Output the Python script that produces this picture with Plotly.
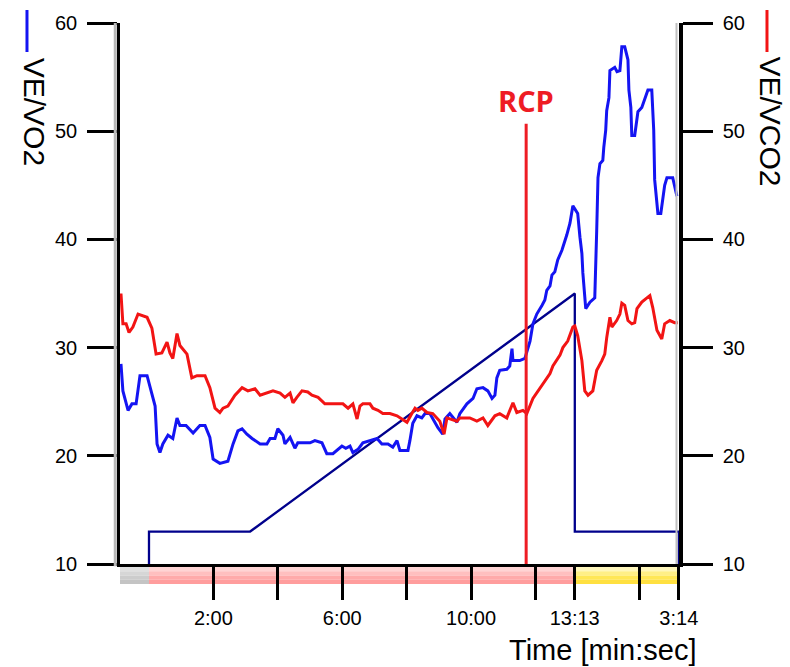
import plotly.graph_objects as go

# ---- data (time in minutes; recovery phase continues after 13:13) ----
ve_vo2_t = [-0.87, -0.81, -0.65, -0.53, -0.40, -0.28, -0.06, 0.09, 0.19, 0.25, 0.34, 0.43, 0.59, 0.74,
            0.87, 0.96, 1.15, 1.37, 1.58, 1.74, 1.89, 1.99, 2.20, 2.45, 2.61, 2.76, 2.89, 3.04, 3.20,
            3.45, 3.66, 3.76, 3.91, 4.00, 4.16, 4.22, 4.38, 4.53, 4.62, 5.00, 5.15, 5.37, 5.52, 5.71,
            5.83, 5.99, 6.11, 6.24, 6.33, 6.49, 6.64, 6.86, 7.08, 7.23, 7.42, 7.57, 7.70, 7.79, 8.04,
            8.10, 8.19, 8.32, 8.47, 8.57, 8.72, 8.97, 9.12, 9.19, 9.34, 9.56, 9.65, 9.87, 10.06, 10.18,
            10.37, 10.52, 10.65, 10.74, 10.80, 10.89, 11.11, 11.20, 11.27, 11.30, 11.51, 11.67, 11.73,
            11.83, 11.92, 12.04, 12.20, 12.29, 12.35, 12.45, 12.51, 12.60, 12.69, 12.82, 12.97, 13.07,
            13.16, 13.22, 13.31, 13.38, 13.44, 13.47, 13.56, 13.69, 13.84, 13.90, 13.94, 14.00, 14.09,
            14.12, 14.18, 14.21, 14.28, 14.31, 14.46, 14.53, 14.62, 14.68, 14.77, 14.87, 14.90, 14.96,
            14.99, 15.08, 15.18, 15.30, 15.39, 15.49, 15.61, 15.67, 15.70, 15.80, 15.89, 16.01, 16.08,
            16.26, 16.39]
ve_vo2 = [28.5, 26.0, 24.2, 24.8, 24.8, 27.4, 27.4, 25.7, 24.6, 21.1, 20.3, 21.1, 21.9, 21.6,
          23.5, 22.8, 22.8, 22.1, 22.8, 22.8, 21.7, 19.7, 19.3, 19.5, 21.1, 22.3, 22.5, 22.0, 21.6,
          21.1, 21.1, 21.6, 21.6, 22.5, 21.9, 21.1, 21.7, 20.7, 21.2, 21.2, 21.4, 21.2, 20.2, 20.2,
          20.5, 20.9, 20.7, 20.9, 20.3, 20.6, 21.2, 21.4, 21.6, 21.1, 21.1, 20.8, 21.4, 20.5, 20.5,
          21.4, 23.0, 23.7, 23.5, 23.9, 23.9, 22.6, 22.0, 23.4, 23.9, 23.1, 23.9, 24.8, 25.3, 26.2,
          26.3, 26.0, 25.3, 25.6, 27.2, 27.9, 28.0, 28.3, 29.9, 28.8, 28.8, 29.0, 29.7,
          30.6, 32.2, 33.1, 33.9, 34.4, 35.3, 35.7, 36.7, 37.0, 38.1, 39.0, 40.4, 41.5,
          43.1, 42.8, 42.4, 40.2, 38.7, 36.9, 33.6, 34.2, 34.6, 40.8, 45.7, 47.0, 47.3,
          48.5, 50.1, 51.9, 53.1, 55.6, 55.9, 55.5, 55.6, 57.8, 57.8, 56.6, 53.8, 52.2,
          49.6, 49.6, 51.8, 52.2, 52.9, 53.8, 53.8, 50.1, 45.5, 42.4, 42.4, 45.0, 45.7,
          45.7, 44.0]

ve_vco2_t = [-0.87, -0.81, -0.71, -0.62, -0.50, -0.34, -0.06, 0.09, 0.22, 0.40, 0.56, 0.65, 0.74, 0.87,
             0.96, 1.18, 1.33, 1.49, 1.74, 1.89, 2.05, 2.20, 2.30, 2.45, 2.67, 2.89, 3.07, 3.29, 3.45,
             3.66, 3.85, 4.07, 4.22, 4.38, 4.47, 4.59, 4.75, 4.93, 5.06, 5.25, 5.46, 5.71, 6.02, 6.18,
             6.33, 6.46, 6.55, 6.64, 6.86, 6.95, 7.11, 7.26, 7.48, 7.70, 7.85, 8.01, 8.16, 8.26, 8.35,
             8.47, 8.63, 8.81, 9.03, 9.16, 9.25, 9.56, 9.65, 9.96, 10.18, 10.37, 10.52, 10.74, 10.89,
             11.11, 11.30, 11.42, 11.61, 11.73, 11.92, 12.14, 12.29, 12.45, 12.54, 12.76, 12.85, 13.00,
             13.16, 13.22, 13.31, 13.44, 13.53, 13.63, 13.78, 13.90, 14.06, 14.15, 14.21, 14.31, 14.37,
             14.52, 14.62, 14.68, 14.77, 14.87, 14.99, 15.08, 15.15, 15.30, 15.46, 15.55, 15.64, 15.77,
             15.92, 16.01, 16.17, 16.32, 16.42]
ve_vco2 = [35.0, 32.2, 32.2, 31.4, 31.9, 33.1, 32.8, 31.8, 29.4, 29.5, 30.5, 29.5, 29.0, 31.3,
           30.2, 29.4, 27.2, 27.4, 27.4, 26.3, 24.4, 24.0, 24.4, 24.6, 25.6, 26.3, 26.0, 26.2, 25.6,
           25.8, 26.0, 25.8, 25.4, 25.8, 24.9, 25.4, 26.0, 25.9, 25.6, 25.4, 24.8, 24.8, 24.8, 24.4,
           24.8, 23.4, 24.6, 24.8, 24.8, 24.4, 24.2, 23.9, 23.9, 23.7, 23.4, 23.1, 23.9, 24.4, 24.2,
           24.4, 24.0, 23.9, 23.2, 22.0, 23.5, 23.2, 23.5, 23.5, 23.2, 23.5, 22.8, 23.7, 23.9,
           23.5, 24.9, 24.0, 24.2, 23.9, 25.3, 26.3, 26.9, 27.6, 28.3, 29.3, 30.0, 30.6,
           31.9, 32.0, 31.1, 28.8, 26.0, 25.6, 26.0, 27.9, 28.8, 29.4, 30.9, 32.8, 31.9,
           32.5, 33.1, 34.1, 33.9, 32.5, 32.2, 32.3, 33.6, 34.2, 34.6, 34.8, 33.7, 31.6,
           30.8, 32.2, 32.5, 32.3, 32.3]

load_t = [0.0, 0.0, 3.14, 13.22, 13.22, 16.45, 16.45]
load = [10.0, 13.0, 13.0, 35.0, 13.0, 13.0, 10.0]

rcp_t = 11.71
rcp_top = 50.7

x_tickvals = [2, 4, 6, 8, 10, 12, 13.217, 15.217, 16.45]
x_ticktext = ["2:00", "", "6:00", "", "10:00", "", "13:13", "", "3:14"]
y_tickvals = [10, 20, 30, 40, 50, 60]

phase_names = ["rest", "exercise", "recovery"]
phase_start = [-0.9, 0.0, 13.217]
phase_end = [0.0, 13.217, 16.45]
phase_colors = [["#e0e0e0", "#d6d6d6", "#cccccc", "#c4c4c4"],
                ["#ffd4d4", "#ffbfbf", "#ffaaaa", "#ff9d9d"],
                ["#fff7bc", "#ffef86", "#ffe756", "#ffe040"]]

BLUE = "#1414f2"
RED = "#f21414"
NAVY = "#00008c"
RCPRED = "#ee1c24"
FONT = "Liberation Sans"

fig = go.Figure()
fig.add_trace(go.Scatter(x=load_t, y=load, mode="lines", line=dict(color=NAVY, width=2.3),
                         yaxis="y", showlegend=False, hoverinfo="skip"))
fig.add_trace(go.Scatter(x=ve_vo2_t, y=ve_vo2, mode="lines", line=dict(color=BLUE, width=3),
                         yaxis="y", name="VE/VO2", showlegend=False))
fig.add_trace(go.Scatter(x=ve_vco2_t, y=ve_vco2, mode="lines", line=dict(color=RED, width=3),
                         yaxis="y2", name="VE/VCO2", showlegend=False))

shapes = []
# phase band under the time axis (stacked strips to imitate a gradient)
band_top, band_bot = -0.0055, -0.037
n = 4
for s, e, cols in zip(phase_start, phase_end, phase_colors):
    for i, c in enumerate(cols):
        y0 = band_top + (band_bot - band_top) * i / n
        y1 = band_top + (band_bot - band_top) * (i + 1) / n
        shapes.append(dict(type="rect", xref="x", yref="paper", x0=s, x1=e, y0=y1, y1=y0,
                           fillcolor=c, line=dict(width=0), layer="below"))
# grey shadows beside the axis lines
shapes.append(dict(type="line", xref="paper", yref="paper", x0=-0.0085, x1=-0.0085, y0=-0.004, y1=1.0,
                   line=dict(color="#b8b8b8", width=3), layer="above"))
shapes.append(dict(type="line", xref="paper", yref="paper", x0=0.9955, x1=0.9955, y0=0.0, y1=1.0,
                   line=dict(color="#c0c0c0", width=2), layer="above"))
# RCP marker
shapes.append(dict(type="line", xref="x", yref="y", x0=rcp_t, x1=rcp_t, y0=10, y1=rcp_top,
                   line=dict(color=RCPRED, width=3), layer="above"))
# legend swatches next to the axis titles
shapes.append(dict(type="line", xref="paper", yref="paper", x0=-0.1664, x1=-0.1664, y0=1.0240, y1=0.9464,
                   line=dict(color=BLUE, width=3)))
shapes.append(dict(type="line", xref="paper", yref="paper", x0=1.1574, x1=1.1574, y0=1.0240, y1=0.9464,
                   line=dict(color=RED, width=3)))

annotations = [
    dict(text="RCP", x=rcp_t, y=52.8, xref="x", yref="y", showarrow=False,
         font=dict(family="Open Sans", size=29, color=RCPRED, weight="bold"),
         xanchor="center", yanchor="middle"),
    dict(text="VE/VO2", x=-0.1539, y=0.836, xref="paper", yref="paper", showarrow=False,
         textangle=90, font=dict(family=FONT, size=30, color="black"),
         xanchor="center", yanchor="middle"),
    dict(text="VE/VCO2", x=1.1646, y=0.818, xref="paper", yref="paper", showarrow=False,
         textangle=90, font=dict(family=FONT, size=30, color="black"),
         xanchor="center", yanchor="middle"),
    dict(text="Time [min:sec]", x=1.034, y=-0.159, xref="paper", yref="paper", showarrow=False,
         font=dict(family=FONT, size=29, color="black"), xanchor="right", yanchor="middle"),
]

axis_common = dict(range=[10, 60], tickvals=y_tickvals, ticks="outside", ticklen=30, tickwidth=2.5,
                   tickcolor="black", showline=True, linecolor="black", showgrid=False, zeroline=False,
                   tickfont=dict(family=FONT, size=20, color="black"), ticklabelstandoff=6, fixedrange=True)

fig.update_layout(
    width=790, height=667,
    margin=dict(l=120, r=111, t=23, b=103),
    paper_bgcolor="white", plot_bgcolor="white",
    shapes=shapes, annotations=annotations,
    hovermode=False,
    xaxis=dict(range=[-0.9, 16.455], tickvals=x_tickvals, ticktext=x_ticktext, ticks="outside",
               ticklen=33, tickwidth=2.5, tickcolor="black", showline=True, linecolor="black",
               linewidth=2.5, showgrid=False, zeroline=False, fixedrange=True,
               tickfont=dict(family=FONT, size=20, color="black"), ticklabelstandoff=1),
    yaxis=dict(side="left", linewidth=2.5, **axis_common),
    yaxis2=dict(side="right", overlaying="y", linewidth=3.5, **axis_common),
)

fig.write_html("out.html", config={"displayModeBar": False},
               post_script="document.body.style.margin='0';document.body.style.overflow='hidden';")
